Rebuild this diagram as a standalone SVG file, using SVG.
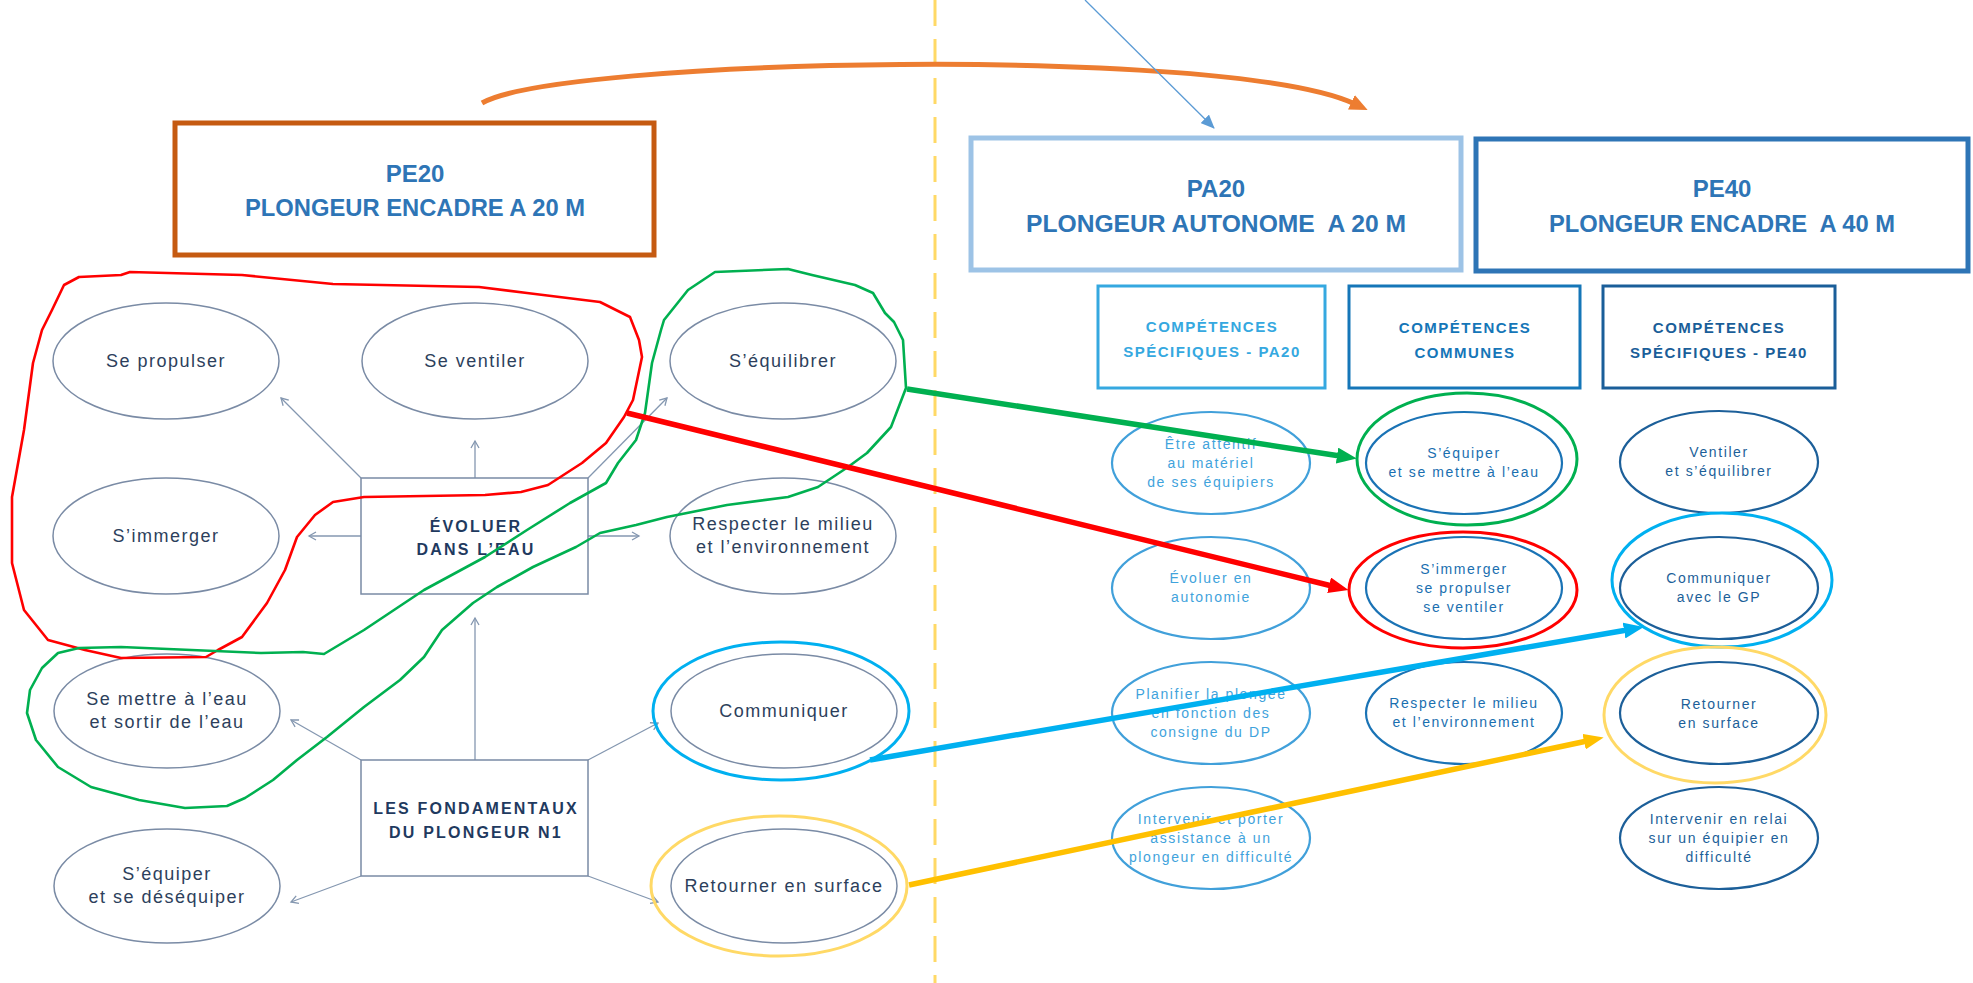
<svg xmlns="http://www.w3.org/2000/svg" width="1973" height="983" viewBox="0 0 1973 983">
<style>
.lt{font-family:"Liberation Sans",Arial,sans-serif;font-size:18px;letter-spacing:1.5px;fill:#2D3F5C;text-anchor:middle}
.bt{font-family:"Liberation Sans",Arial,sans-serif;font-size:16px;font-weight:bold;letter-spacing:2.2px;fill:#1F3A5F;text-anchor:middle}
.tt{font-family:"Liberation Sans",Arial,sans-serif;font-size:24px;font-weight:bold;fill:#2E75B6;text-anchor:middle}
.ct{font-family:"Liberation Sans",Arial,sans-serif;font-size:15px;font-weight:bold;letter-spacing:1.5px;text-anchor:middle}
.rt{font-family:"Liberation Sans",Arial,sans-serif;font-size:14px;letter-spacing:1.6px;text-anchor:middle}
.le{fill:#fff;stroke:#7A8BA5;stroke-width:1.5}
.lb{fill:#fff;stroke:#7A8BA5;stroke-width:1.5}
.gl{stroke:#8497B0;stroke-width:1.3;fill:none;marker-end:url(#mGray)}
.c1{fill:#fff;stroke:#41A0DA;stroke-width:2.2}
.c2{fill:#fff;stroke:#1A73B5;stroke-width:2.2}
.c3{fill:#fff;stroke:#1C5F99;stroke-width:2.2}
.t1{fill:#3FA3DC}
.t2{fill:#1A6FB0}
.t3{fill:#1C5F99}
.ring{fill:none;stroke-width:3}
.hand{fill:none;stroke-width:2.6;stroke-linejoin:round;stroke-linecap:round}
.thick{fill:none;stroke-width:5.5}
</style>
<defs>
<marker id="mGray" markerUnits="userSpaceOnUse" markerWidth="10" markerHeight="10" refX="8" refY="5" orient="auto">
<path d="M1,1 L8,5 L1,9" fill="none" stroke="#8497B0" stroke-width="1.3"/>
</marker>
<marker id="mOrange" markerUnits="userSpaceOnUse" markerWidth="20" markerHeight="16" refX="4" refY="8" orient="auto">
<path d="M0,0 L18,8 L0,16 z" fill="#ED7D31"/>
</marker>
<marker id="mThin" markerUnits="userSpaceOnUse" markerWidth="14" markerHeight="12" refX="13" refY="6" orient="auto">
<path d="M0,0 L14,6 L0,12 z" fill="#5B9BD5"/>
</marker>
<marker id="mGreen" markerUnits="userSpaceOnUse" markerWidth="20" markerHeight="16" refX="3" refY="8" orient="auto">
<path d="M0,0 L20,8 L0,16 z" fill="#00B050"/>
</marker>
<marker id="mRed" markerUnits="userSpaceOnUse" markerWidth="20" markerHeight="16" refX="3" refY="8" orient="auto">
<path d="M0,0 L20,8 L0,16 z" fill="#FF0000"/>
</marker>
<marker id="mBlue" markerUnits="userSpaceOnUse" markerWidth="20" markerHeight="16" refX="3" refY="8" orient="auto">
<path d="M0,0 L20,8 L0,16 z" fill="#00B0F0"/>
</marker>
<marker id="mYellow" markerUnits="userSpaceOnUse" markerWidth="20" markerHeight="16" refX="3" refY="8" orient="auto">
<path d="M0,0 L20,8 L0,16 z" fill="#FFC000"/>
</marker>
</defs>
<rect width="1973" height="983" fill="#fff"/>

<line x1="935" y1="0" x2="935" y2="983" stroke="#FFD966" stroke-width="3" stroke-dasharray="26 13"/>

<g id="pe20">
<rect x="175" y="123" width="479" height="132" fill="#fff" stroke="#C55A11" stroke-width="5"/>
<text class="tt" x="415" y="182">PE20</text>
<text class="tt" x="415" y="216" textLength="340" lengthAdjust="spacingAndGlyphs">PLONGEUR ENCADRE A 20 M</text>
</g>
<g id="pa20">
<rect x="971" y="138" width="490" height="132" fill="#fff" stroke="#9DC3E6" stroke-width="5"/>
<text class="tt" x="1216" y="197">PA20</text>
<text class="tt" x="1216" y="232" textLength="380" lengthAdjust="spacingAndGlyphs" xml:space="preserve">PLONGEUR AUTONOME  A 20 M</text>
</g>
<g id="pe40">
<rect x="1476" y="139" width="492" height="132" fill="#fff" stroke="#2E75B6" stroke-width="5"/>
<text class="tt" x="1722" y="197">PE40</text>
<text class="tt" x="1722" y="232" textLength="346" lengthAdjust="spacingAndGlyphs" xml:space="preserve">PLONGEUR ENCADRE  A 40 M</text>
</g>

<g id="comp-pa20">
<rect x="1098" y="286" width="227" height="102" fill="#fff" stroke="#35A8E0" stroke-width="3"/>
<text class="ct" x="1212" y="332" fill="#35A8E0">COMPÉTENCES</text>
<text class="ct" x="1212" y="357" fill="#35A8E0">SPÉCIFIQUES - PA20</text>
</g>
<g id="comp-communes">
<rect x="1349" y="286" width="231" height="102" fill="#fff" stroke="#1576B8" stroke-width="3"/>
<text class="ct" x="1465" y="333" fill="#1576B8">COMPÉTENCES</text>
<text class="ct" x="1465" y="358" fill="#1576B8">COMMUNES</text>
</g>
<g id="comp-pe40">
<rect x="1603" y="286" width="232" height="102" fill="#fff" stroke="#1A5E99" stroke-width="3"/>
<text class="ct" x="1719" y="333" fill="#1A5E99">COMPÉTENCES</text>
<text class="ct" x="1719" y="358" fill="#1A5E99">SPÉCIFIQUES - PE40</text>
</g>

<g id="connectors-gray">
<line class="gl" x1="361" y1="478" x2="281" y2="398"/>
<line class="gl" x1="475" y1="478" x2="475" y2="441"/>
<line class="gl" x1="588" y1="478" x2="667" y2="398"/>
<line class="gl" x1="361" y1="536" x2="309" y2="536"/>
<line class="gl" x1="588" y1="536" x2="639" y2="536"/>
<line class="gl" x1="475" y1="760" x2="475" y2="618"/>
<line class="gl" x1="361" y1="760" x2="291" y2="720"/>
<line class="gl" x1="588" y1="760" x2="658" y2="723"/>
<line class="gl" x1="361" y1="876" x2="291" y2="902"/>
<line class="gl" x1="588" y1="876" x2="658" y2="902"/>
</g>

<g id="se-propulser"><ellipse class="le" cx="166" cy="361" rx="113" ry="58"/><text class="lt" x="166" y="367">Se propulser</text></g>
<g id="se-ventiler"><ellipse class="le" cx="475" cy="361" rx="113" ry="58"/><text class="lt" x="475" y="367">Se ventiler</text></g>
<g id="s-equilibrer"><ellipse class="le" cx="783" cy="361" rx="113" ry="58"/><text class="lt" x="783" y="367">S’équilibrer</text></g>
<g id="s-immerger"><ellipse class="le" cx="166" cy="536" rx="113" ry="58"/><text class="lt" x="166" y="542">S’immerger</text></g>
<g id="evoluer"><rect class="lb" x="361" y="478" width="227" height="116"/><text class="bt" x="476" y="532">ÉVOLUER</text><text class="bt" x="476" y="555">DANS L’EAU</text></g>
<g id="respecter"><ellipse class="le" cx="783" cy="536" rx="113" ry="58"/><text class="lt" x="783" y="530">Respecter le milieu</text><text class="lt" x="783" y="553">et l’environnement</text></g>
<g id="se-mettre"><ellipse class="le" cx="167" cy="711" rx="113" ry="57"/><text class="lt" x="167" y="705">Se mettre à l’eau</text><text class="lt" x="167" y="728">et sortir de l’eau</text></g>
<g id="communiquer"><ellipse class="le" cx="784" cy="711" rx="113" ry="57"/><text class="lt" x="784" y="717">Communiquer</text><ellipse class="ring" cx="781" cy="711" rx="128" ry="69" stroke="#00B0F0" stroke-width="3.5"/></g>
<g id="fondamentaux"><rect class="lb" x="361" y="760" width="227" height="116"/><text class="bt" x="476" y="814">LES FONDAMENTAUX</text><text class="bt" x="476" y="838">DU PLONGEUR N1</text></g>
<g id="s-equiper-desequiper"><ellipse class="le" cx="167" cy="886" rx="113" ry="57"/><text class="lt" x="167" y="880">S’équiper</text><text class="lt" x="167" y="903">et se déséquiper</text></g>
<g id="retourner"><ellipse class="le" cx="784" cy="886" rx="113" ry="57"/><text class="lt" x="784" y="892">Retourner en surface</text><ellipse class="ring" cx="779" cy="886" rx="128" ry="70" stroke="#FFD966"/></g>

<g id="pa20-attentif"><ellipse class="c1" cx="1211" cy="463" rx="99" ry="51"/><text class="rt t1" x="1211" y="449">Être attentif</text><text class="rt t1" x="1211" y="468">au matériel</text><text class="rt t1" x="1211" y="487">de ses équipiers</text></g>
<g id="pa20-evoluer"><ellipse class="c1" cx="1211" cy="588" rx="99" ry="51"/><text class="rt t1" x="1211" y="583">Évoluer en</text><text class="rt t1" x="1211" y="602">autonomie</text></g>
<g id="pa20-planifier"><ellipse class="c1" cx="1211" cy="713" rx="99" ry="51"/><text class="rt t1" x="1211" y="699">Planifier la plongée</text><text class="rt t1" x="1211" y="718">en fonction des</text><text class="rt t1" x="1211" y="737">consigne du DP</text></g>
<g id="pa20-intervenir"><ellipse class="c1" cx="1211" cy="838" rx="99" ry="51"/><text class="rt t1" x="1211" y="824">Intervenir et porter</text><text class="rt t1" x="1211" y="843">assistance à un</text><text class="rt t1" x="1211" y="862">plongeur en difficulté</text></g>

<g id="com-equiper"><ellipse class="c2" cx="1464" cy="463" rx="98" ry="51"/><text class="rt t2" x="1464" y="458">S’équiper</text><text class="rt t2" x="1464" y="477">et se mettre à l’eau</text><ellipse class="ring" cx="1467" cy="459" rx="110" ry="66" stroke="#00B050"/></g>
<g id="com-immerger"><ellipse class="c2" cx="1464" cy="588" rx="98" ry="51"/><text class="rt t2" x="1464" y="574">S’immerger</text><text class="rt t2" x="1464" y="593">se propulser</text><text class="rt t2" x="1464" y="612">se ventiler</text><ellipse class="ring" cx="1463" cy="590" rx="114" ry="58" stroke="#FF0000"/></g>
<g id="com-respecter"><ellipse class="c2" cx="1464" cy="713" rx="98" ry="51"/><text class="rt t2" x="1464" y="708">Respecter le milieu</text><text class="rt t2" x="1464" y="727">et l’environnement</text></g>

<g id="pe40-ventiler"><ellipse class="c3" cx="1719" cy="462" rx="99" ry="51"/><text class="rt t3" x="1719" y="457">Ventiler</text><text class="rt t3" x="1719" y="476">et s’équilibrer</text></g>
<g id="pe40-communiquer"><ellipse class="c3" cx="1719" cy="588" rx="99" ry="51"/><text class="rt t3" x="1719" y="583">Communiquer</text><text class="rt t3" x="1719" y="602">avec le GP</text><ellipse class="ring" cx="1722" cy="580" rx="110" ry="67" stroke="#00B0F0"/></g>
<g id="pe40-retourner"><ellipse class="c3" cx="1719" cy="713" rx="99" ry="51"/><text class="rt t3" x="1719" y="709">Retourner</text><text class="rt t3" x="1719" y="728">en surface</text><ellipse class="ring" cx="1715" cy="715" rx="111" ry="68" stroke="#FFD966"/></g>
<g id="pe40-intervenir"><ellipse class="c3" cx="1719" cy="838" rx="99" ry="51"/><text class="rt t3" x="1719" y="824">Intervenir en relai</text><text class="rt t3" x="1719" y="843">sur un équipier en</text><text class="rt t3" x="1719" y="862">difficulté</text></g>

<g id="hand-outlines">
<path class="hand" stroke="#FF0000" d="M42,330 L52,310 L64,285 L79,277 L121,275 L130,272 L242,275 L333,284 L479,287 L527,293 L600,302 L630,317 L639,340 L642,357 L633,400 L624,417 L606,443 L582,463 L548,485 L521,492 L485,495 L364,497 L333,502 L315,515 L297,537 L285,570 L267,603 L242,637 L218,650 L206,657 L121,658 L85,650 L48,640 L24,610 L12,563 L12,497 L24,430 L33,363 Z"/>
<path class="hand" stroke="#00B050" d="M664,320 L688,290 L715,272 L788,269 L812,275 L855,285 L873,293 L885,313 L894,322 L903,340 L906,388 L891,427 L867,453 L848,467 L818,487 L788,497 L727,505 L667,517 L636,525 L600,533 L576,547 L533,567 L497,587 L473,603 L442,630 L424,657 L400,680 L364,707 L327,737 L297,760 L273,780 L245,798 L227,806 L185,808 L139,800 L91,787 L58,767 L36,740 L27,713 L30,690 L42,668 L58,653 L79,648 L121,647 L261,653 L303,652 L324,654 L364,630 L424,590 L485,557 L527,530 L570,503 L606,483 L618,463 L636,440 L645,413 L652,363 L661,330 Z"/>
</g>

<g id="connectors">
<path d="M482,103 C560,58 1230,45 1355,104" fill="none" stroke="#ED7D31" stroke-width="5" marker-end="url(#mOrange)"/>
<line x1="1085" y1="0" x2="1214" y2="128" stroke="#5B9BD5" stroke-width="1.3" marker-end="url(#mThin)"/>
<line class="thick" x1="907" y1="389" x2="1340" y2="456" stroke="#00B050" marker-end="url(#mGreen)"/>
<line class="thick" x1="627" y1="413" x2="1332" y2="586" stroke="#FF0000" stroke-width="6" marker-end="url(#mRed)"/>
<line class="thick" x1="870" y1="760" x2="1627" y2="630" stroke="#00B0F0" marker-end="url(#mBlue)"/>
<line class="thick" x1="909" y1="885" x2="1587" y2="741" stroke="#FFC000" marker-end="url(#mYellow)"/>
</g>
</svg>
